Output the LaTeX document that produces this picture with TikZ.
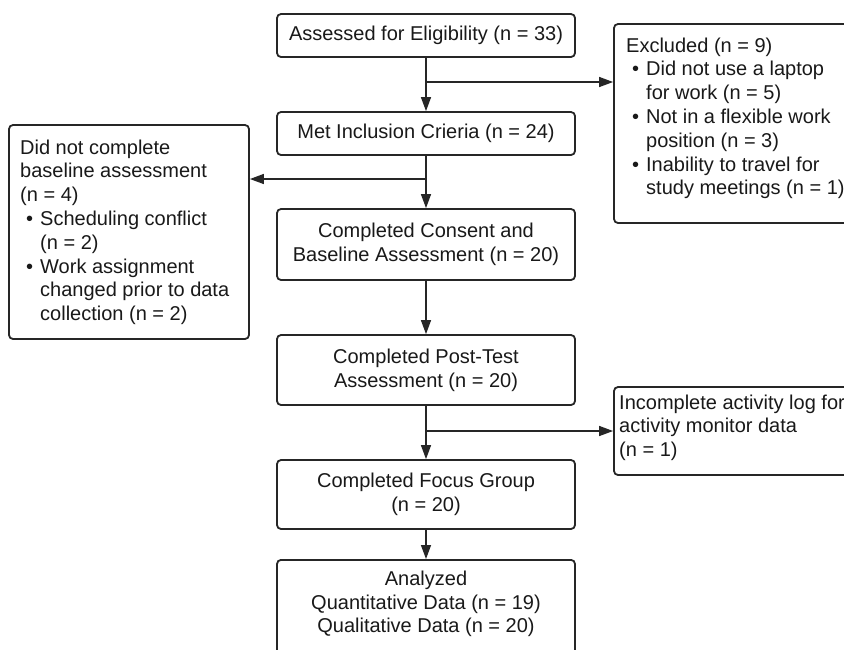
\documentclass[tikz,border=0pt]{standalone}
\usepackage{fontspec}
\setmainfont{Liberation Sans}
\usetikzlibrary{arrows.meta}
\newcommand\mybul{\hspace*{6pt}\makebox[14pt][l]{•}}
\newcommand\mycont{\hspace*{20pt}}
\begin{document}
\begin{tikzpicture}[x=1pt,y=-1pt,
  every node/.style={font=\fontsize{20}{23.8}\selectfont, text=black!90},
  box/.style={draw=black!85, line width=1.8pt, rounded corners=4pt, inner sep=0pt, align=center},
  txt/.style={anchor=north west, inner sep=0pt, align=left},
  ctxt/.style={inner sep=0pt, align=center},
  conn/.style={line width=1.4pt, draw=black!85},
  arr/.style={conn, -{Triangle[length=14pt,width=10pt]}}]
\useasboundingbox (0,0) rectangle (844,649);
\fill[white] (0,0) rectangle (844,649);
% main column
\node[box, minimum width=298pt, minimum height=43pt] (b1) at (426,35.5) {Assessed for Eligibility (n = 33)};
\node[box, minimum width=298pt, minimum height=43pt] (b2) at (426,133.5) {Met Inclusion Crieria (n = 24)};
\node[box, minimum width=298pt, minimum height=71pt] (b3) at (426,244.5) {Completed Consent and\\Baseline Assessment (n = 20)};
\node[box, minimum width=298pt, minimum height=70pt] (b4) at (426,370) {Completed Post-Test\\Assessment (n = 20)};
\node[box, minimum width=298pt, minimum height=69pt] (b5) at (426,494.5) {Completed Focus Group\\(n = 20)};
\node[box, minimum width=298pt, minimum height=100pt, anchor=north] (b6) at (426,559) {};
\node[ctxt] (b6T) at (426,604) {Analyzed\\Quantitative Data (n = 19)\\Qualitative Data (n = 20)};
% side boxes
\node[box, minimum width=238pt, minimum height=199pt] (ex) at (733,123.5) {};
\node[txt] (exT) at (626,37.4) {Excluded (n = 9)\\
\mybul Did not use a laptop\\
\mycont for work (n = 5)\\
\mybul Not in a flexible work\\
\mycont position (n = 3)\\
\mybul Inability to travel for\\
\mycont study meetings (n = 1)};
\node[box, minimum width=240pt, minimum height=214pt] (lb) at (129,232) {};
\node[txt] (lbT) at (20,139.4) {Did not complete\\
baseline assessment\\
(n = 4)\\
\mybul Scheduling conflict\\
\mycont (n = 2)\\
\mybul Work assignment\\
\mycont changed prior to data\\
\mycont collection (n = 2)};
\node[box, minimum width=238pt, minimum height=88pt] (inc) at (733,431) {};
\node[txt] (incT) at (619,394.4) {Incomplete activity log for\\
activity monitor data\\
(n = 1)};
% connectors
\coordinate (j1) at (426,82);
\coordinate (j2) at (426,179);
\draw[arr] (b1.south) -- (b2.north);
\draw[arr] (j1) -- (j1 -| ex.west);
\draw[arr] (b2.south) -- (b3.north);
\draw[arr] (j2) -- (j2 -| lb.east);
\draw[arr] (b3.south) -- (b4.north);
\draw[arr] (b4.south) -- (b5.north);
\draw[arr] (b4.south |- inc.west) -- (inc.west);
\draw[arr] (b5.south) -- (b6.north);
\end{tikzpicture}
\end{document}
